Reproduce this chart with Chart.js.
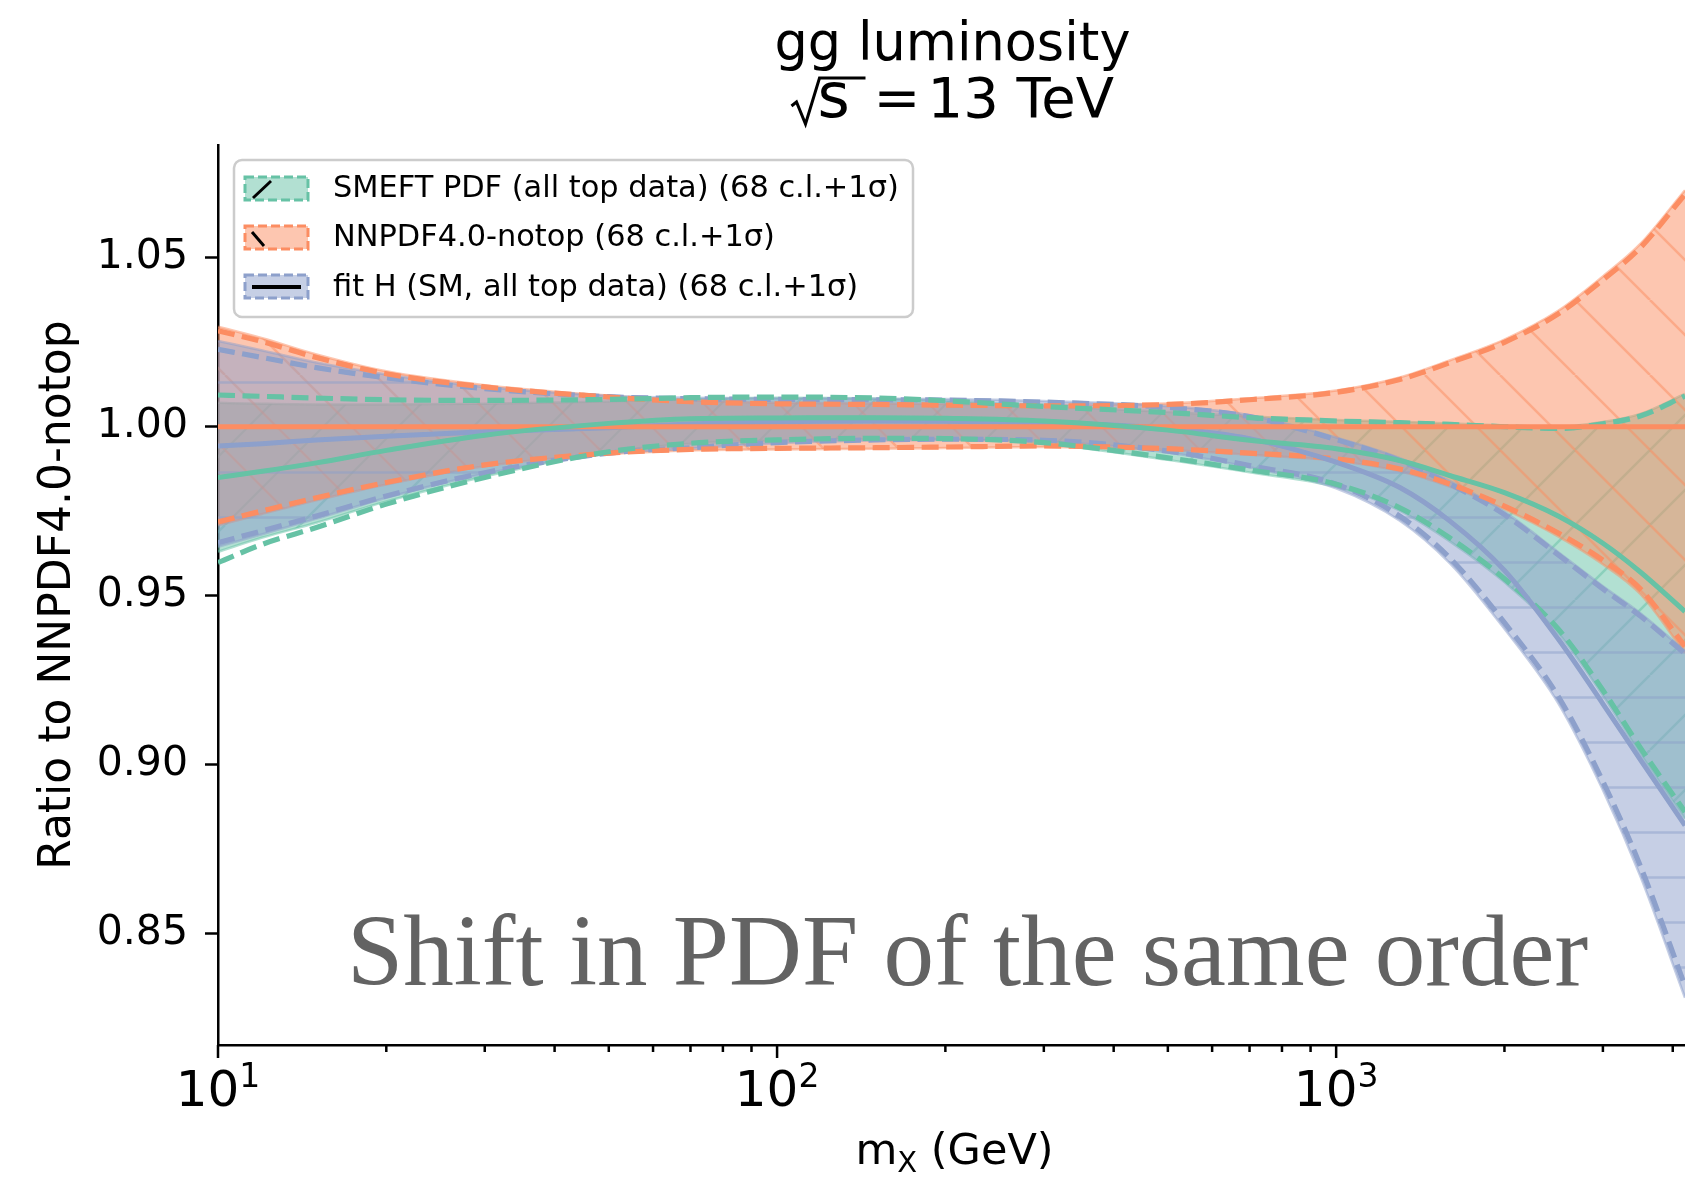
<!DOCTYPE html>
<html>
<head>
<meta charset="utf-8">
<title>gg luminosity</title>
<script src="https://cdn.jsdelivr.net/npm/chart.js@4.4.1/dist/chart.umd.min.js"></script>
<style>
  html, body { margin: 0; padding: 0; background: #fff; }
  canvas { display: block; }
</style>
</head>
<body>
<canvas id="lumi" width="1685" height="1179"></canvas>
<script>
// gg luminosity, ratio to NNPDF4.0-notop, sqrt(s) = 13 TeV

// x grid (m_X in GeV)
const mX = [10, 12, 15, 20, 30, 50, 70, 100, 150, 200, 300, 500, 700, 1000, 1300, 1600, 2000, 2500, 3000, 3500, 4207];

// SMEFT PDF (all top data)
const smCentral = [0.9850, 0.9868, 0.9893, 0.9930, 0.9975, 1.0010, 1.0024, 1.0026, 1.0027, 1.0025, 1.0017, 0.9990, 0.9960, 0.9935, 0.9900, 0.9855, 0.9805, 0.9735, 0.9655, 0.9570, 0.9453];
const smBandUp  = [1.0071, 1.0068, 1.0066, 1.0066, 1.0068, 1.0075, 1.0082, 1.0086, 1.0084, 1.0077, 1.0061, 1.0044, 1.0030, 1.0020, 1.0015, 1.0010, 1.0004, 1.0000, 1.0014, 1.0038, 1.0097];
const smBandLo  = [0.9630, 0.9672, 0.9716, 0.9779, 0.9853, 0.9926, 0.9950, 0.9959, 0.9964, 0.9963, 0.9950, 0.9902, 0.9865, 0.9822, 0.9752, 0.9660, 0.9540, 0.9388, 0.9205, 0.9032, 0.8840];
const smSigUp   = [1.0094, 1.0090, 1.0085, 1.0080, 1.0078, 1.0081, 1.0086, 1.0088, 1.0085, 1.0077, 1.0060, 1.0042, 1.0027, 1.0017, 1.0012, 1.0007, 1.0000, 0.9995, 1.0009, 1.0032, 1.0091];
const smSigLo   = [0.9598, 0.9652, 0.9702, 0.9771, 0.9850, 0.9926, 0.9951, 0.9961, 0.9966, 0.9965, 0.9953, 0.9908, 0.9872, 0.9830, 0.9760, 0.9670, 0.9550, 0.9400, 0.9220, 0.9050, 0.8860];

// NNPDF4.0-notop (reference, central = 1)
const nnCentral = [1, 1, 1, 1, 1, 1, 1, 1, 1, 1, 1, 1, 1, 1, 1, 1, 1, 1, 1, 1, 1];
const nnBandUp  = [1.0296, 1.0262, 1.0214, 1.0164, 1.0123, 1.0092, 1.0078, 1.0071, 1.0069, 1.0067, 1.0065, 1.0069, 1.0084, 1.0107, 1.0146, 1.0197, 1.0258, 1.0344, 1.0445, 1.0541, 1.0700];
const nnBandLo  = [0.9708, 0.9742, 0.9782, 0.9829, 0.9883, 0.9919, 0.9930, 0.9933, 0.9935, 0.9937, 0.9940, 0.9931, 0.9917, 0.9899, 0.9868, 0.9822, 0.9756, 0.9675, 0.9593, 0.9505, 0.9330];
const nnSigUp   = [1.0284, 1.0252, 1.0205, 1.0157, 1.0118, 1.0088, 1.0074, 1.0068, 1.0066, 1.0064, 1.0062, 1.0066, 1.0080, 1.0102, 1.0140, 1.0190, 1.0250, 1.0335, 1.0435, 1.0530, 1.0688];
const nnSigLo   = [0.9718, 0.9751, 0.9790, 0.9835, 0.9887, 0.9922, 0.9933, 0.9936, 0.9938, 0.9940, 0.9943, 0.9935, 0.9922, 0.9905, 0.9875, 0.9830, 0.9765, 0.9685, 0.9605, 0.9520, 0.9350];

// fit H (SM, all top data)
const fhCentral = [0.9943, 0.9950, 0.9961, 0.9972, 0.9985, 0.9997, 1.0008, 1.0015, 1.0017, 1.0016, 1.0012, 0.9995, 0.9965, 0.9895, 0.9820, 0.9720, 0.9575, 0.9370, 0.9180, 0.9015, 0.8820];
const fhBandUp  = [1.0254, 1.0226, 1.0190, 1.0155, 1.0118, 1.0092, 1.0086, 1.0084, 1.0083, 1.0082, 1.0076, 1.0061, 1.0034, 0.9968, 0.9907, 0.9838, 0.9748, 0.9628, 0.9528, 0.9448, 0.9336];
const fhBandLo  = [0.9645, 0.9682, 0.9728, 0.9790, 0.9861, 0.9920, 0.9936, 0.9951, 0.9959, 0.9961, 0.9957, 0.9924, 0.9880, 0.9818, 0.9722, 0.9595, 0.9402, 0.9180, 0.8925, 0.8670, 0.8310];
const fhSigUp   = [1.0229, 1.0205, 1.0175, 1.0145, 1.0113, 1.0089, 1.0083, 1.0081, 1.0080, 1.0079, 1.0073, 1.0057, 1.0030, 0.9962, 0.9900, 0.9830, 0.9740, 0.9620, 0.9520, 0.9440, 0.9328];
const fhSigLo   = [0.9657, 0.9692, 0.9736, 0.9795, 0.9864, 0.9922, 0.9938, 0.9953, 0.9961, 0.9963, 0.9960, 0.9928, 0.9885, 0.9830, 0.9735, 0.9610, 0.9420, 0.9200, 0.8950, 0.8700, 0.8345];

// axes
const xMin = 10, xMax = 4207;
const yMin = 0.817, yMax = 1.0834;
const yTicks = [0.85, 0.90, 0.95, 1.00, 1.05];
const xMajor = [10, 100, 1000];
const xMinor = [20, 30, 40, 50, 60, 70, 80, 90, 200, 300, 400, 500, 600, 700, 800, 900, 2000, 3000, 4000];

const titleText = 'gg luminosity';
const energyParts = ['s', '=', '13 TeV'];
const xLabel = ['m', 'X', ' (GeV)'];
const yLabel = 'Ratio to NNPDF4.0-notop';
const legendLabels = ['SMEFT PDF (all top data) (68 c.l.+1σ)', 'NNPDF4.0-notop (68 c.l.+1σ)', 'fit H (SM, all top data) (68 c.l.+1σ)'];
const noteText = 'Shift in PDF of the same order';

const green = [102, 194, 165], orange = [252, 141, 98], blue = [141, 160, 203];
const rgba = (c, a) => `rgba(${c[0]},${c[1]},${c[2]},${a})`;

const canvas = document.getElementById('lumi');
const mainCtx = canvas.getContext('2d');

// hatched fill like matplotlib's fill_between(..., hatch=...)
function hatch(c, kind) {
    const s = kind === '-' ? 45 : 75;
    const t = document.createElement('canvas');
    t.width = s; t.height = s;
    const g = t.getContext('2d');
    g.fillStyle = rgba(c, 0.5);
    g.fillRect(0, 0, s, s);
    g.strokeStyle = rgba(c, 0.5);
    g.lineWidth = 2.5;
    g.beginPath();
    if (kind === '-') {
        g.moveTo(0, s / 2); g.lineTo(s, s / 2);
    } else {
        [-s, 0, s].forEach(o => {
            if (kind === '/') { g.moveTo(o, s); g.lineTo(o + s, 0); }
            else { g.moveTo(o, 0); g.lineTo(o + s, s); }
        });
    }
    g.stroke();
    return mainCtx.createPattern(t, 'repeat');
}

const pts = ys => mX.map((m, i) => ({ x: m, y: ys[i] }));

const series = [
    { col: green, hatch: '/', c: smCentral, bu: smBandUp, bl: smBandLo, su: smSigUp, sl: smSigLo, fillOrder: 9 },
    { col: orange, hatch: '\\', c: nnCentral, bu: nnBandUp, bl: nnBandLo, su: nnSigUp, sl: nnSigLo, fillOrder: 8 },
    { col: blue, hatch: '-', c: fhCentral, bu: fhBandUp, bl: fhBandLo, su: fhSigUp, sl: fhSigLo, fillOrder: 7 }
];

const datasets = [];
series.forEach(s => {
    datasets.push({ data: pts(s.bu), fill: '+1', backgroundColor: hatch(s.col, s.hatch),
        borderColor: rgba(s.col, 0.5), borderWidth: 2.5, order: s.fillOrder });
    datasets.push({ data: pts(s.bl), fill: false, borderColor: rgba(s.col, 0.5), borderWidth: 2.5, order: s.fillOrder });
    datasets.push({ data: pts(s.su), fill: false, borderColor: rgba(s.col, 1), borderWidth: 5.2, borderDash: [17, 7.5], order: 4 });
    datasets.push({ data: pts(s.sl), fill: false, borderColor: rgba(s.col, 1), borderWidth: 5.2, borderDash: [17, 7.5], order: 4 });
    datasets.push({ data: pts(s.c), fill: false, borderColor: rgba(s.col, 1), borderWidth: 5, order: 1 });
});

// ticks, labels, title, legend and the note
const overlay = {
    id: 'overlay',
    afterDraw(chart) {
        const ctx = chart.ctx, a = chart.chartArea, xs = chart.scales.x;
        const cx = (a.left + a.right) / 2;
        ctx.save();

        ctx.strokeStyle = '#000';
        ctx.lineWidth = 2.5;
        ctx.beginPath();
        xMinor.forEach(v => { const p = xs.getPixelForValue(v); ctx.moveTo(p, a.bottom); ctx.lineTo(p, a.bottom + 7); });
        xMajor.forEach(v => { const p = xs.getPixelForValue(v); ctx.moveTo(p, a.bottom); ctx.lineTo(p, a.bottom + 13); });
        ctx.stroke();

        ctx.fillStyle = '#000';
        ctx.textAlign = 'left';
        ctx.textBaseline = 'alphabetic';
        xMajor.forEach(v => {
            const p = xs.getPixelForValue(v);
            const e = String(Math.round(Math.log10(v)));
            ctx.font = '50px "DejaVu Sans"';
            const wb = ctx.measureText('10').width;
            ctx.font = '33px "DejaVu Sans"';
            const we = ctx.measureText(e).width;
            const x0 = p - (wb + we) / 2;
            ctx.font = '50px "DejaVu Sans"';
            ctx.fillText('10', x0, a.bottom + 61);
            ctx.font = '33px "DejaVu Sans"';
            ctx.fillText(e, x0 + wb, a.bottom + 42);
        });

        // x label with subscript
        ctx.font = '43px "DejaVu Sans"';
        const w1 = ctx.measureText(xLabel[0]).width, w3 = ctx.measureText(xLabel[2]).width;
        ctx.font = '29px "DejaVu Sans"';
        const w2 = ctx.measureText(xLabel[1]).width;
        const xx = cx + 3 - (w1 + w2 + w3) / 2;
        ctx.font = '43px "DejaVu Sans"';
        ctx.fillText(xLabel[0], xx, a.bottom + 119);
        ctx.font = '29px "DejaVu Sans"';
        ctx.fillText(xLabel[1], xx + w1, a.bottom + 127);
        ctx.font = '43px "DejaVu Sans"';
        ctx.fillText(xLabel[2], xx + w1 + w2, a.bottom + 119);

        // y label
        ctx.save();
        ctx.translate(70, (a.top + a.bottom) / 2);
        ctx.rotate(-Math.PI / 2);
        ctx.textAlign = 'center';
        ctx.font = '44px "DejaVu Sans"';
        ctx.fillText(yLabel, 0, 0);
        ctx.restore();

        // title
        ctx.font = '52.5px "DejaVu Sans"';
        ctx.textAlign = 'center';
        ctx.fillText(titleText, cx + 1, 60);
        ctx.textAlign = 'left';
        ctx.font = '62px "DejaVu Sans"';
        ctx.fillText(energyParts[0], cx - 134, 117);
        ctx.font = '56px "DejaVu Sans"';
        ctx.fillText(energyParts[1], cx - 78, 117);
        ctx.fillText(energyParts[2], cx - 24, 117);
        // radical sign with its bar over s
        ctx.lineWidth = 3;
        ctx.lineJoin = 'miter';
        ctx.beginPath();
        ctx.moveTo(cx - 160, 106);
        ctx.lineTo(cx - 155, 102);
        ctx.lineTo(cx - 146, 124);
        ctx.lineTo(cx - 132, 78);
        ctx.lineTo(cx - 86, 78);
        ctx.stroke();

        // legend
        ctx.beginPath();
        ctx.roundRect(234, 160, 679, 157, 8);
        ctx.fillStyle = 'rgba(255,255,255,0.8)';
        ctx.fill();
        ctx.strokeStyle = '#cccccc';
        ctx.lineWidth = 2.5;
        ctx.stroke();
        const rowTop = [177, 226, 275];
        const rowBase = [197, 246, 296];
        series.forEach((s, i) => {
            const y0 = rowTop[i];
            ctx.fillStyle = rgba(s.col, 0.5);
            ctx.fillRect(245, y0, 63, 23);
            ctx.setLineDash([9, 4]);
            ctx.strokeStyle = rgba(s.col, 1);
            ctx.lineWidth = 3;
            ctx.strokeRect(245, y0, 63, 23);
            ctx.setLineDash([]);
            ctx.strokeStyle = '#000';
            ctx.beginPath();
            if (s.hatch === '/') { ctx.lineWidth = 3; ctx.moveTo(253, y0 + 21); ctx.lineTo(271, y0 + 4); }
            else if (s.hatch === '\\') { ctx.lineWidth = 3; ctx.moveTo(252, y0 + 6); ctx.lineTo(264, y0 + 20); }
            else { ctx.lineWidth = 4; ctx.moveTo(252, y0 + 12); ctx.lineTo(301, y0 + 12); }
            ctx.stroke();
            ctx.fillStyle = '#000';
            ctx.font = '30.4px "DejaVu Sans"';
            ctx.fillText(legendLabels[i], 333, rowBase[i]);
        });

        // note
        ctx.font = '100px "Liberation Serif"';
        const wn = ctx.measureText(noteText).width;
        ctx.font = (100 * 1241 / wn).toFixed(1) + 'px "Liberation Serif"';
        ctx.fillStyle = '#636363';
        ctx.fillText(noteText, 347, 985);

        ctx.restore();
    }
};

new Chart(canvas, {
    type: 'line',
    data: { datasets: datasets },
    options: {
        responsive: false,
        devicePixelRatio: 1,
        animation: false,
        events: [],
        layout: { padding: { top: 145, right: 0, bottom: 0, left: 0 } },
        elements: {
            point: { radius: 0 },
            line: { cubicInterpolationMode: 'monotone', borderCapStyle: 'butt' }
        },
        plugins: {
            legend: { display: false },
            tooltip: { enabled: false },
            title: { display: false }
        },
        scales: {
            x: {
                type: 'logarithmic',
                min: xMin,
                max: xMax,
                grid: { display: false },
                border: { display: true, color: '#000', width: 2.5 },
                ticks: { display: false },
                afterFit: scale => { scale.height = 134; }
            },
            y: {
                type: 'linear',
                min: yMin,
                max: yMax,
                afterBuildTicks: scale => { scale.ticks = yTicks.map(v => ({ value: v })); },
                grid: { display: true, drawOnChartArea: false, drawTicks: true, tickLength: 13, tickWidth: 2.5, tickColor: '#000', color: '#000' },
                border: { display: true, color: '#000', width: 2.5 },
                ticks: {
                    color: '#000',
                    padding: 17,
                    font: { family: 'DejaVu Sans', size: 41 },
                    callback: v => v.toFixed(2)
                },
                afterFit: scale => { scale.width = 218; }
            }
        }
    },
    plugins: [overlay]
});
</script>
</body>
</html>
